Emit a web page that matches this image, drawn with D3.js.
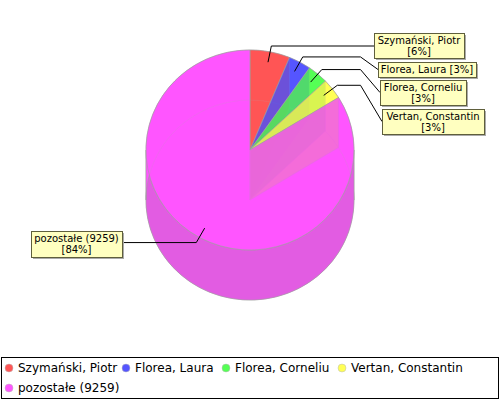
<!DOCTYPE html>
<html><head><meta charset="utf-8">
<script src="https://cdnjs.cloudflare.com/ajax/libs/d3/7.8.5/d3.min.js"></script>
<style>html,body{margin:0;padding:0;background:#fff}svg{display:block}text{font-family:"DejaVu Sans";fill:#000}</style>
</head><body><svg id="c" width="500" height="400"></svg>
<script>
const categories=["Szymański, Piotr","Florea, Laura","Florea, Corneliu","Vertan, Constantin","pozostałe (9259)"];
const seriesValues=[685,385,355,365,9259];
const colors=["#ff5555","#5555ff","#55ff55","#ffff55","#ff55ff"];
const wallColors=["#b23b3b","#3b3bb2","#3bb23b","#b2b23b","#b23bb2"];
const calloutLines=[["Szymański, Piotr","[6%]"],["Florea, Laura [3%]"],["Florea, Corneliu","[3%]"],["Vertan, Constantin","[3%]"],["pozostałe (9259)","[84%]"]];
const boxes=[[374,33,90,25],[378,62,98,15],[380,80,86,25],[382,109,102,25],[31,231,91,26]];
const elbowX=[null,360.5,360.5,360.5,null];

const cx=250,cy=150,rx=104,ry=100,depth=50,alpha=0.8;
const edge="#a0a0a0";
const svg=d3.select("#c");
const pie=d3.pie().sort(null).startAngle(0).endAngle(2*Math.PI);
const arcs=pie(seriesValues);
const arc=d3.arc().innerRadius(0).outerRadius(1);
const pt=(a,k=1,dy=0)=>[cx+k*rx*Math.sin(a),cy+dy-k*ry*Math.cos(a)];
const line=d3.line();
const disc=(dy)=>svg.append("g").attr("transform",`translate(${cx},${cy+dy}) scale(${rx},${ry})`);
const styleEdge=s=>s.attr("stroke",edge).attr("stroke-opacity",.7).attr("stroke-width",.8).attr("vector-effect","non-scaling-stroke");

// floor
disc(depth).selectAll("path").data(arcs).join("path").attr("d",arc).attr("fill",(d,i)=>colors[i]).call(styleEdge);

// curved walls: back half in slice colour, front half shaded
const walls=svg.append("g");
arcs.forEach((d,i)=>{
  const parts=[[d.startAngle,Math.min(d.endAngle,Math.PI/2),colors[i],1],
               [Math.max(d.startAngle,Math.PI/2),Math.min(d.endAngle,3*Math.PI/2),"#e25ce2",1],
               [Math.max(d.startAngle,3*Math.PI/2),d.endAngle,colors[i],1]];
  parts.filter(p=>p[1]>p[0]).forEach(p=>{
    const steps=d3.range(0,81).map(k=>p[0]+(p[1]-p[0])*k/80);
    const pts=steps.map(a=>pt(a)).concat(steps.slice().reverse().map(a=>pt(a,1,depth)));
    walls.append("path").attr("d",line(pts)+"Z").attr("fill",p[2]).attr("fill-opacity",p[3]).call(styleEdge);
  });
});
// radial walls
arcs.slice(0,4).forEach((d,i)=>{
  const a=d.endAngle;
  walls.append("path").attr("d",line([[cx,cy],pt(a),pt(a,1,depth),[cx,cy+depth]])+"Z")
    .attr("fill",wallColors[i]).attr("fill-opacity",.7).call(styleEdge);
});

// top face
disc(0).selectAll("path").data(arcs).join("path").attr("d",arc)
  .attr("fill",(d,i)=>colors[i]).attr("fill-opacity",alpha).call(styleEdge);

// callouts
const anchorK=.895,elbowK=1.06;
arcs.forEach((d,i)=>{
  const mid=(d.startAngle+d.endAngle)/2,b=boxes[i];
  const right=mid<Math.PI;
  const a=pt(mid,anchorK),e=pt(mid,elbowK);
  const by=b[1]+b[3]/2;
  const pts=[a,e];
  if(right){
    if(elbowX[i]) pts.push([elbowX[i],e[1]],[b[0],by]);
    else pts.push([b[0],e[1]]);
  } else pts.push([b[0]+b[2]+2,e[1]]);
  svg.append("path").attr("d",line(pts)).attr("fill","none").attr("stroke","#000").attr("stroke-width",1);
  svg.append("rect").attr("x",b[0]+2).attr("y",b[1]+2).attr("width",b[2]).attr("height",b[3]).attr("fill","#aaa");
  svg.append("rect").attr("x",b[0]+.5).attr("y",b[1]+.5).attr("width",b[2]).attr("height",b[3]).attr("fill","#ffffc0").attr("stroke","#5f5f3c");
  calloutLines[i].forEach((t,k)=>{
    svg.append("text").attr("x",b[0]+b[2]/2).attr("y",b[1]+11+k*11).attr("text-anchor","middle").attr("font-size",10).text(t);
  });
});

// legend
svg.append("rect").attr("x",1.5).attr("y",357.5).attr("width",497).attr("height",41).attr("fill","#fff").attr("stroke","#000");
const legendX=[18,135,235,351,18],legendY=[372,372,372,372,392];
categories.forEach((c,i)=>{
  svg.append("circle").attr("cx",legendX[i]-9).attr("cy",legendY[i]-4).attr("r",4).attr("fill",colors[i]).attr("stroke","#bbb").attr("stroke-width",.5);
  svg.append("text").attr("x",legendX[i]).attr("y",legendY[i]).attr("font-size",12).text(c);
});
</script></body></html>
